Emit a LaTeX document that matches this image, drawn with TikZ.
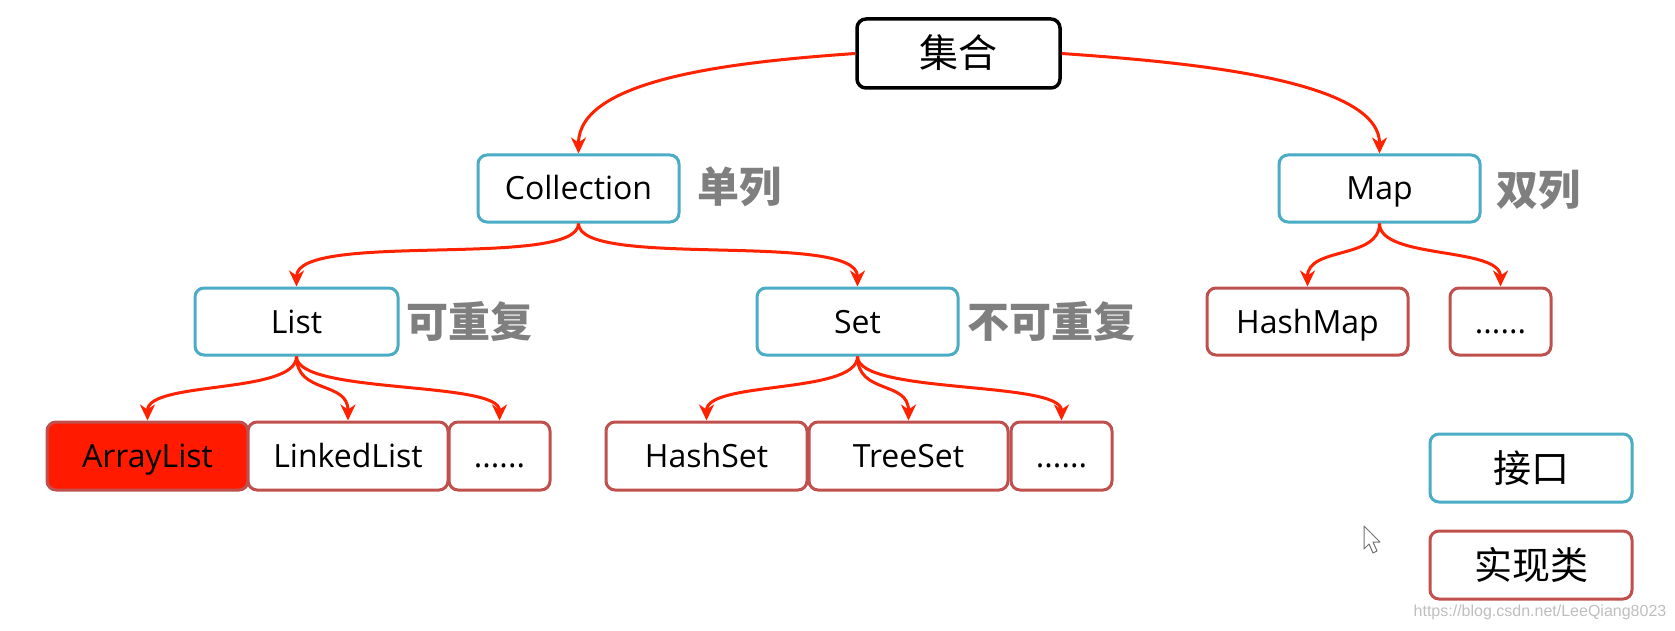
\documentclass[tikz,border=0pt]{standalone}
\usepackage{fontspec}
\setmainfont{Open Sans}
\newfontfamily\cjk{Noto Sans CJK SC}
\newfontfamily\wm{Liberation Sans}
\usetikzlibrary{arrows.meta}
\definecolor{ifblue}{HTML}{4BACC6}
\definecolor{clsred}{HTML}{C0504D}
\definecolor{arrred}{HTML}{FF2200}
\definecolor{alfill}{HTML}{FF1A00}
\definecolor{lblgray}{HTML}{7F7F7F}
\tikzset{
  box/.style={rectangle, rounded corners=9pt, line width=3pt, inner sep=0pt,
    minimum height=67pt, font=\fontsize{32}{38}\selectfont, text=black,
    text height=26pt, text depth=3pt},
  ifbox/.style={box, draw=ifblue, fill=white},
  clbox/.style={box, draw=clsred, fill=white},
  cjkbox/.style={font=\cjk\fontsize{38}{44}\selectfont, text height=30pt, text depth=2pt},
  lbl/.style={font=\cjk\bfseries\fontsize{42}{48}\selectfont, text=lblgray, inner sep=0pt},
  arr/.style={draw=arrred, line width=3pt, -{Stealth[length=16pt,width=15pt,inset=5pt]}},
}
\begin{document}
\begin{tikzpicture}[x=1pt,y=-1pt]
\useasboundingbox (0,0) rectangle (1675,631);
\fill[white] (0,0) rectangle (1675,631);
% nodes
\node[box, draw=black, line width=3.5pt, fill=white, minimum width=203pt, minimum height=69pt, cjkbox, font=\cjk\fontsize{39}{44}\selectfont] (jihe) at (958.5,53.5) {集合};
\node[ifbox, minimum width=201pt] (coll) at (578.5,188.5) {Collection};
\node[ifbox, minimum width=201pt] (map) at (1379.5,188.5) {Map};
\node[ifbox, minimum width=203pt] (list) at (296.5,321.5) {List};
\node[ifbox, minimum width=201pt] (set) at (857.5,321.5) {Set};
\node[clbox, minimum width=201pt] (hashmap) at (1307.5,321.5) {HashMap};
\node[clbox, minimum width=101pt] (mdots) at (1500.5,321.5) {......};
\node[clbox, fill=alfill, minimum width=201pt, minimum height=68pt] (arraylist) at (147.5,456) {ArrayList};
\node[clbox, minimum width=200pt, minimum height=68pt] (linkedlist) at (348,456) {LinkedList};
\node[clbox, minimum width=101pt, minimum height=68pt] (ldots) at (499.5,456) {......};
\node[clbox, minimum width=201pt, minimum height=68pt] (hashset) at (706.5,456) {HashSet};
\node[clbox, minimum width=199pt, minimum height=68pt] (treeset) at (908.5,456) {TreeSet};
\node[clbox, minimum width=101pt, minimum height=68pt] (sdots) at (1061.5,456) {......};
\node[ifbox, minimum width=202pt, minimum height=68pt, cjkbox] (jiekou) at (1531,468) {接口};
\node[clbox, minimum width=202pt, minimum height=68pt, cjkbox] (shixian) at (1531,565) {实现类};
% labels
\node[lbl] (l1) at (739,187) {单列};
\node[lbl] (l2) at (1538,190) {双列};
\node[lbl] (l3) at (469,321) {可重复};
\node[lbl] (l4) at (1051,321) {不可重复};
% watermark
\node[font=\wm\fontsize{16}{18}\selectfont, text=black!25, inner sep=0pt] (wmk) at (1540,612) {https://blog.csdn.net/LeeQiang8023};
% cursor
\draw[black!55, line width=1pt, fill=white, line join=round]
  (1364,526) -- (1364,549) -- (1369,544) -- (1373,553) -- (1377,551) -- (1373,542) -- (1380,542) -- cycle;
% connectors
\draw[arr] (jihe.west) to[out=184,in=90,out distance=120pt,in distance=75pt] (coll.north);
\draw[arr] (jihe.east) to[out=-4,in=90,out distance=120pt,in distance=75pt] (map.north);
\draw[arr] (coll.south) to[out=-90,in=90,out distance=46pt,in distance=56pt] (list.north);
\draw[arr] (coll.south) to[out=-90,in=90,out distance=46pt,in distance=56pt] (set.north);
\draw[arr] (map.south) to[out=-90,in=90,out distance=36pt,in distance=40pt] (hashmap.north);
\draw[arr] (map.south) to[out=-90,in=90,out distance=36pt,in distance=40pt] (mdots.north);
\draw[arr] (list.south) to[out=-90,in=90,out distance=38pt,in distance=40pt] (arraylist.north);
\draw[arr] (list.south) to[out=-90,in=90,out distance=38pt,in distance=40pt] (linkedlist.north);
\draw[arr] (list.south) to[out=-90,in=90,out distance=38pt,in distance=40pt] (ldots.north);
\draw[arr] (set.south) to[out=-90,in=90,out distance=38pt,in distance=40pt] (hashset.north);
\draw[arr] (set.south) to[out=-90,in=90,out distance=38pt,in distance=40pt] (treeset.north);
\draw[arr] (set.south) to[out=-90,in=90,out distance=38pt,in distance=40pt] (sdots.north);
\end{tikzpicture}
\end{document}
